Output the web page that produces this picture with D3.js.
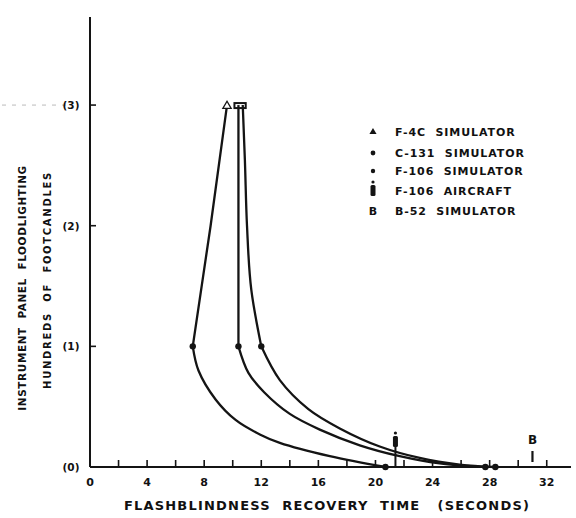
<!DOCTYPE html>
<html>
<head>
<meta charset="utf-8">
<script src="https://cdn.jsdelivr.net/npm/d3@7/dist/d3.min.js"></script>
<style>
  body { margin: 0; background: #fff; }
  text { font-family: "DejaVu Sans", "Liberation Sans", sans-serif; font-weight: 700; fill: #111; white-space: pre; }
</style>
</head>
<body>
<svg id="chart" width="576" height="518"></svg>
<script>
// values (seconds, hundreds of footcandles)
const f4cSim = [[9.6, 3], [8.45, 2], [7.2, 1], [7.6, 0.8], [8.8, 0.56], [10.2, 0.39], [11.9, 0.27], [13.3, 0.2], [16.8, 0.09], [20.7, 0]]
const c131Sim = [[10.4, 3], [10.4, 2], [10.4, 1], [11.1, 0.78], [12.2, 0.62], [14.0, 0.44], [16.1, 0.31], [18.9, 0.18], [21.7, 0.09], [24.5, 0.03], [27.7, 0]]
const f106Sim = [[10.7, 3], [10.85, 2.55], [11.0, 2], [11.3, 1.47], [12.0, 1], [13.3, 0.72], [15.3, 0.48], [17.5, 0.32], [20.3, 0.17], [23.1, 0.075], [25.9, 0.02], [28.4, 0]]
const f106Aircraft = [21.4, 0]
const b52Sim = [31.0, 0]

const xTicks = [0, 4, 8, 12, 16, 20, 24, 28, 32]
const xMinor = d3.range(2, 34, 2)
const yTicks = [0, 1, 2, 3]
const legendLabels = ["F-4C  SIMULATOR", "C-131  SIMULATOR", "F-106  SIMULATOR", "F-106  AIRCRAFT", "B-52  SIMULATOR"]

const svg = d3.select("#chart")
const ink = "#141414"

const x = d3.scaleLinear().domain([0, 33.7]).range([90, 571])
const y = d3.scaleLinear().domain([0, 3.73]).range([467, 17])

// dashed guide at the (3) level, left of the axis
svg.append("line")
  .attr("x1", 2).attr("x2", 66)
  .attr("y1", y(3)).attr("y2", y(3))
  .attr("stroke", "#bbb").attr("stroke-width", 1)
  .attr("stroke-dasharray", "4,6")

// axes
svg.append("line")
  .attr("x1", x(0)).attr("x2", x(33.7))
  .attr("y1", y(0)).attr("y2", y(0))
  .attr("stroke", ink).attr("stroke-width", 2.2)
svg.append("line")
  .attr("x1", x(0)).attr("x2", x(0))
  .attr("y1", y(0)).attr("y2", y(3.73))
  .attr("stroke", ink).attr("stroke-width", 2)

svg.selectAll(".xminor")
  .data(xMinor)
  .join("line")
  .attr("x1", d => x(d)).attr("x2", d => x(d))
  .attr("y1", y(0)).attr("y2", y(0) - 7)
  .attr("stroke", ink).attr("stroke-width", 1.6)

svg.selectAll(".xlab")
  .data(xTicks)
  .join("text")
  .attr("x", d => x(d))
  .attr("y", 486)
  .attr("text-anchor", "middle")
  .style("font-size", "11px")
  .text(d => d)

svg.selectAll(".ytick")
  .data(yTicks.filter(d => d > 0))
  .join("line")
  .attr("x1", x(0)).attr("x2", x(0) + 6)
  .attr("y1", d => y(d)).attr("y2", d => y(d))
  .attr("stroke", ink).attr("stroke-width", 1.6)

svg.selectAll(".ylab")
  .data(yTicks)
  .join("text")
  .attr("x", 71)
  .attr("y", d => y(d) + 4)
  .attr("text-anchor", "middle")
  .style("font-size", "10.5px")
  .text(d => `(${d})`)

// axis titles
svg.append("text")
  .attr("x", 327).attr("y", 510)
  .attr("text-anchor", "middle")
  .style("font-size", "13px")
  .style("letter-spacing", "1.2px")
  .text("FLASHBLINDNESS  RECOVERY  TIME   (SECONDS)")

svg.append("text")
  .attr("transform", "translate(26,288) rotate(-90)")
  .attr("text-anchor", "middle")
  .style("font-size", "10.5px")
  .style("letter-spacing", "0.6px")
  .text("INSTRUMENT  PANEL  FLOODLIGHTING")

svg.append("text")
  .attr("transform", "translate(51,280) rotate(-90)")
  .attr("text-anchor", "middle")
  .style("font-size", "10px")
  .style("letter-spacing", "1.7px")
  .text("HUNDREDS  OF  FOOTCANDLES")

// curves: upper part down to the (1) point, smooth decay below it
const upper = d3.line()
  .x(d => x(d[0]))
  .y(d => y(d[1]))
  .curve(d3.curveMonotoneY)
const lower = d3.line()
  .x(d => x(d[0]))
  .y(d => y(d[1]))
  .curve(d3.curveCatmullRom.alpha(0.5))

const series = [f4cSim, c131Sim, f106Sim]
svg.selectAll(".upper")
  .data(series.map(s => s.filter(d => d[1] >= 1).reverse()))
  .join("path")
  .attr("d", upper)
  .attr("fill", "none")
  .attr("stroke", ink)
  .attr("stroke-width", 2.3)
svg.selectAll(".lower")
  .data(series.map(s => s.filter(d => d[1] <= 1)))
  .join("path")
  .attr("d", lower)
  .attr("fill", "none")
  .attr("stroke", ink)
  .attr("stroke-width", 2.3)

// dots at the (1) level and on the baseline
const points = series.flatMap(s => s.filter(d => d[1] === 1 || d[1] === 0))
svg.selectAll(".pt")
  .data(points)
  .join("circle")
  .attr("cx", d => x(d[0]))
  .attr("cy", d => y(d[1]))
  .attr("r", 3.2)
  .attr("fill", ink)

// open triangle at top of F-4C
const top4c = f4cSim[0]
svg.append("path")
  .attr("d", d3.symbol(d3.symbolTriangle, 30)())
  .attr("transform", `translate(${x(top4c[0])},${y(top4c[1]) + 1})`)
  .attr("fill", "#fff").attr("stroke", ink).attr("stroke-width", 1.3)

// cap joining the C-131 / F-106 sim tops
svg.append("rect")
  .attr("x", x(c131Sim[0][0]) - 4)
  .attr("y", y(3) - 2)
  .attr("width", x(f106Sim[0][0]) - x(c131Sim[0][0]) + 7)
  .attr("height", 5)
  .attr("fill", "none").attr("stroke", ink).attr("stroke-width", 2)

// F-106 aircraft marker
function aircraftMark(g, cx, cy) {
  g.append("rect").attr("x", cx - 2.5).attr("y", cy - 9).attr("width", 5).attr("height", 11)
    .attr("rx", 1.5).attr("fill", ink)
  g.append("circle").attr("cx", cx).attr("cy", cy - 12).attr("r", 1.6).attr("fill", ink)
}
const acG = svg.append("g")
aircraftMark(acG, x(f106Aircraft[0]), y(f106Aircraft[1]) - 22)
acG.append("line")
  .attr("x1", x(f106Aircraft[0])).attr("x2", x(f106Aircraft[0]))
  .attr("y1", y(f106Aircraft[1]) - 20).attr("y2", y(f106Aircraft[1]))
  .attr("stroke", ink).attr("stroke-width", 2)

// B-52 marker
svg.append("text")
  .attr("x", x(b52Sim[0])).attr("y", y(b52Sim[1]) - 23)
  .attr("text-anchor", "middle")
  .style("font-size", "12px")
  .text("B")
svg.append("line")
  .attr("x1", x(b52Sim[0])).attr("x2", x(b52Sim[0]))
  .attr("y1", y(b52Sim[1]) - 16).attr("y2", y(b52Sim[1]) - 5)
  .attr("stroke", ink).attr("stroke-width", 2.2)

// legend
const legend = svg.append("g").attr("transform", "translate(373,132)")
const rowY = [0, 21, 39, 59, 79]
legend.selectAll("text")
  .data(legendLabels)
  .join("text")
  .attr("x", 22)
  .attr("y", (d, i) => rowY[i] + 4)
  .style("font-size", "11px")
  .style("letter-spacing", "0.9px")
  .text(d => d)

legend.append("path")
  .attr("d", d3.symbol(d3.symbolTriangle, 22)())
  .attr("transform", `translate(0,${rowY[0]})`)
  .attr("fill", ink)
legend.append("circle").attr("cx", 0).attr("cy", rowY[1]).attr("r", 2.4).attr("fill", ink)
legend.append("circle").attr("cx", 0).attr("cy", rowY[2]).attr("r", 2.2).attr("fill", ink)
aircraftMark(legend, 0, rowY[3] + 3)
legend.append("text")
  .attr("x", 0).attr("y", rowY[4] + 4)
  .attr("text-anchor", "middle")
  .style("font-size", "11px")
  .text("B")
</script>
</body>
</html>
